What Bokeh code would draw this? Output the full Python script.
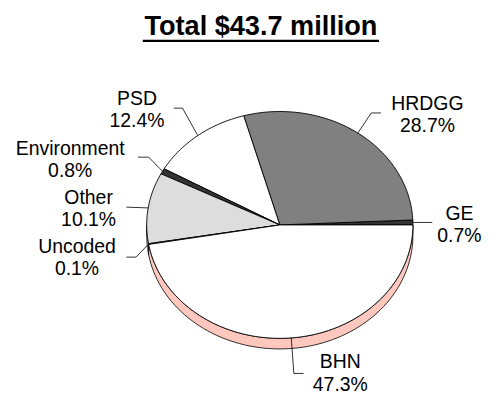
import numpy as np
from bokeh.plotting import figure
from bokeh.models import Range1d
from bokeh.core.properties import value
from bokeh.embed import file_html
from bokeh.resources import INLINE

# ---- data ----
categories = ["GE", "HRDGG", "PSD", "Environment", "Other", "Uncoded", "BHN"]
shares = [0.7, 28.7, 12.4, 0.8, 10.1, 0.1, 47.3]
title_text = "Total $43.7 million"

# ---- style / layout (reference-pixel units, scaled into the canvas) ----
top_colors = ["#333333", "#808080", "#ffffff", "#333333", "#dddddd", "#ffffff", "#ffffff"]
side_colors = ["#222222", "#606060", "#dddddd", "#222222", "#bbbbbb", "#ffc8be", "#ffc8be"]
cx, cy, rx, ry, depth = 288.5, 233.5, 137.5, 118.0, 11.0
label_pos = {
    "GE": (474, 232.5), "HRDGG": (441, 118), "PSD": (141, 113),
    "Environment": (72, 165), "Other": (91, 216), "Uncoded": (79, 266.5),
    "BHN": (351, 387),
}
elbows = {
    "GE": [(446, None)], "HRDGG": [(383, 117), (393, 117)], "PSD": [(188, 112), (179, 112)],
    "Environment": [(153, 163), (142, 163)], "Other": [(130, 215)],
    "Uncoded": [(140, 267), (130, 267)], "BHN": [(303, 388), (313, 388)],
}
REF_W, REF_H = 502, 412
W, H = 486, 396
k = W / REF_W
line_gap = 11.5

p = figure(width=W, height=H, x_range=Range1d(0, REF_W), y_range=Range1d(REF_H, 0),
           output_backend="svg", toolbar_location=None, min_border=0,
           x_axis_location=None, y_axis_location=None)
p.grid.visible = False
p.outline_line_color = None
p.background_fill_color = "white"
p.border_fill_color = "white"

total = float(sum(shares))
fr = np.cumsum([0.0] + [s / total for s in shares])
angles = 2 * np.pi * fr


def ell(a, dy=0.0):
    return cx + rx * np.cos(a), cy - ry * np.sin(a) + dy


# sides (lower half only)
sx, sy, sc = [], [], []
for i in range(len(shares)):
    s = max(angles[i], np.pi)
    e = min(angles[i + 1], 2 * np.pi)
    if s < e:
        a = np.linspace(s, e, 80)
        x1, y1 = ell(a)
        x2, y2 = ell(a[::-1], depth)
        sx.append(list(np.concatenate([x1, x2])))
        sy.append(list(np.concatenate([y1, y2])))
        sc.append(side_colors[i])
p.patches(sx, sy, fill_color=sc, line_color="black", line_width=0.8)

# top faces
tx, ty = [], []
for i in range(len(shares)):
    n = max(4, int(300 * (angles[i + 1] - angles[i]) / (2 * np.pi)) + 4)
    a = np.linspace(angles[i], angles[i + 1], n)
    x, y = ell(a)
    tx.append([cx] + list(x))
    ty.append([cy] + list(y))
p.patches(tx, ty, fill_color=top_colors, line_color="black", line_width=0.9)

# leader lines
lx, ly = [], []
for i, c in enumerate(categories):
    mid = (angles[i] + angles[i + 1]) / 2
    x0, y0 = ell(mid)
    xs, ys = [x0], [y0]
    for ex, ey in elbows[c]:
        xs.append(ex)
        ys.append(y0 if ey is None else ey)
    lx.append(xs)
    ly.append(ys)
p.multi_line(lx, ly, line_color="black", line_width=0.8)

# labels: name line and percent line
lab_x = [label_pos[c][0] for c in categories]
font_kw = dict(text_align="center", text_baseline="middle", text_font=value("Liberation Sans"),
               text_font_size=f"{20 * k:.1f}px", text_color="black")
p.text(x=lab_x, y=[label_pos[c][1] - line_gap for c in categories], text=categories, **font_kw)
p.text(x=lab_x, y=[label_pos[c][1] + line_gap for c in categories],
       text=[f"{v:.1f}%" for v in shares], **font_kw)

# title
p.text(x=[269], y=[26], text=[title_text], text_align="center", text_baseline="middle",
       text_font=value("Liberation Sans"), text_font_size=f"{28 * k:.1f}px",
       text_font_style="bold", text_color="black")
p.segment(x0=[147], y0=[42], x1=[391], y1=[42], line_color="black", line_width=2.4)

open("out.html", "w").write(file_html(p, INLINE))
